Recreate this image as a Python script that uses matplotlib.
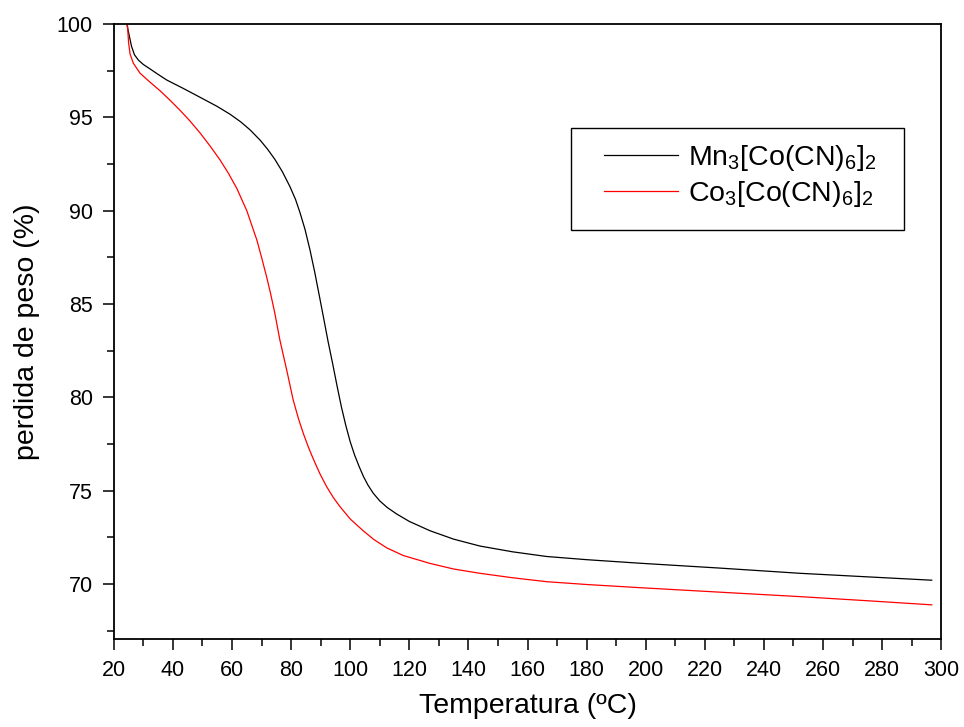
import matplotlib
matplotlib.use("Agg")
import matplotlib.pyplot as plt
from matplotlib.ticker import MultipleLocator
from matplotlib.patches import Rectangle

plt.rcParams['font.family'] = ['Liberation Sans', 'DejaVu Sans']
plt.rcParams['mathtext.fontset'] = 'custom'
plt.rcParams['mathtext.rm'] = 'Liberation Sans'
plt.rcParams['mathtext.it'] = 'Liberation Sans'
plt.rcParams['mathtext.default'] = 'regular'

# Data
mn_temp = [24.4, 25.2, 26.0, 27.0, 28.3, 30.0, 32.2, 35.0, 37.9, 43.5, 50.3, 54.8,
           59.3, 63.0, 66.1, 69.5, 72.0, 74.5, 77.0, 79.6, 81.5, 83.0, 84.7, 86.4,
           88.0, 89.6, 91.0, 92.5, 94.0, 95.5, 97.0, 98.5, 100.0, 101.5, 103.0,
           104.5, 106.0, 107.8, 110.0, 112.5, 115.7, 120.0, 127.0, 135.0, 143.9,
           155.0, 166.5, 180.0, 198.0, 225.0, 252.2, 275.0, 296.8]
mn_mass = [100.0, 99.4, 98.8, 98.35, 98.07, 97.83, 97.6, 97.3, 97.0, 96.55, 95.98, 95.6,
           95.17, 94.75, 94.33, 93.78, 93.3, 92.75, 92.1, 91.29, 90.6, 89.9, 89.0, 87.89,
           86.7, 85.4, 84.25, 83.0, 81.85, 80.65, 79.5, 78.5, 77.62, 76.9, 76.3,
           75.75, 75.3, 74.86, 74.45, 74.1, 73.75, 73.35, 72.85, 72.4, 72.03,
           71.72, 71.47, 71.3, 71.11, 70.85, 70.57, 70.38, 70.2]

co_temp = [24.6, 25.0, 25.5, 26.6, 28.9, 32.0, 35.6, 39.0, 42.4, 45.8, 49.2, 52.5,
           55.9, 58.8, 61.6, 65.0, 68.4, 70.0, 71.7, 73.0, 74.5, 76.2, 78.5, 80.7,
           82.5, 84.1, 85.8, 87.5, 89.7, 92.0, 94.2, 96.5, 100.0, 104.4, 108.0,
           112.4, 118.0, 127.0, 135.0, 143.9, 155.0, 166.5, 180.0, 198.0, 225.0,
           252.2, 275.0, 296.8]
co_mass = [100.0, 99.0, 98.4, 97.9, 97.36, 96.92, 96.43, 95.92, 95.38, 94.8, 94.16, 93.48,
           92.73, 92.0, 91.2, 90.0, 88.43, 87.5, 86.46, 85.6, 84.5, 83.07, 81.47, 79.86,
           78.85, 78.08, 77.35, 76.7, 75.92, 75.22, 74.65, 74.15, 73.48, 72.85, 72.38,
           71.93, 71.52, 71.1, 70.8, 70.57, 70.33, 70.12, 69.97, 69.8, 69.56,
           69.32, 69.1, 68.88]

labels = [r'Mn$_3$[Co(CN)$_6$]$_2$', r'Co$_3$[Co(CN)$_6$]$_2$']
x_ticks = list(range(20, 301, 20))
y_ticks = list(range(70, 101, 5))

W, H = 964, 727
fig = plt.figure(figsize=(W / 100, H / 100), dpi=100)
ax = fig.add_axes([113.8 / W, (H - 639) / H, 827.4 / W, 615 / H])

ax.plot(mn_temp, mn_mass, color='black', lw=0.9, label=labels[0])
ax.plot(co_temp, co_mass, color='red', lw=0.9, label=labels[1])

ax.set_xlim(20, 300)
ax.set_ylim(67.05, 100)
ax.set_xticks(x_ticks)
ax.set_yticks(y_ticks)
ax.xaxis.set_minor_locator(MultipleLocator(10))
ax.yaxis.set_minor_locator(MultipleLocator(2.5))
ax.tick_params(which='both', direction='out', top=False, right=False, width=1.1)
ax.tick_params(which='major', length=8, labelsize=15.5)
ax.tick_params(axis='x', which='major', pad=7)
ax.tick_params(axis='y', which='major', pad=7)
ax.tick_params(which='minor', length=5)
for s in ax.spines.values():
    s.set_linewidth(1.3)

ax.set_xlabel('Temperatura (ºC)', fontsize=20.5, labelpad=9)
ax.set_ylabel('perdida de peso (%)', fontsize=20.5, labelpad=12)

# legend frame drawn separately (asymmetric padding as in the reference)
ax.add_patch(Rectangle((0.5526, 0.665), 0.4024, 0.1661, transform=ax.transAxes,
                       fill=False, edgecolor='black', lw=1.0, zorder=5))
leg = ax.legend(loc='center left', bbox_to_anchor=(0.5925, 0.753), borderaxespad=0,
                fontsize=20.5, frameon=False, handlelength=2.6, handletextpad=0.35,
                borderpad=0, labelspacing=0.22)

fig.savefig('out.png', dpi=100)
